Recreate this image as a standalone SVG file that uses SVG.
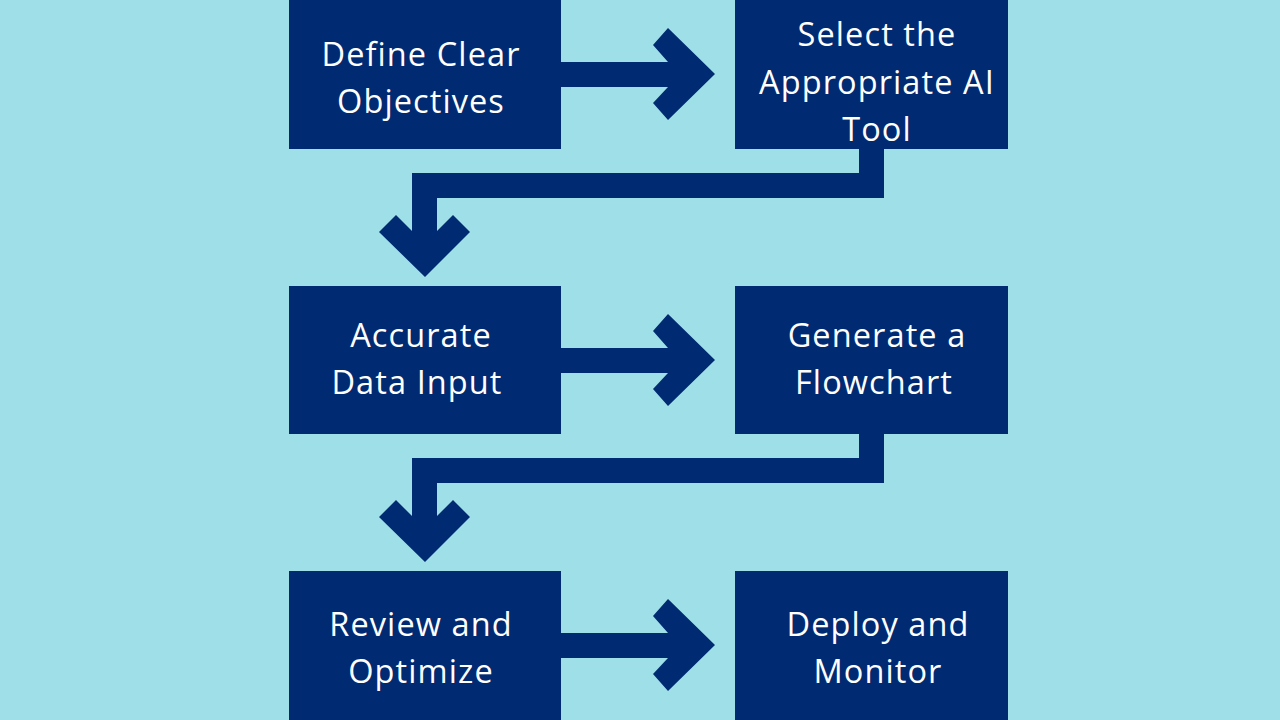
<svg xmlns="http://www.w3.org/2000/svg" width="1280" height="720" viewBox="0 0 1280 720">
<style>
.box{fill:#002A72}
.conn{fill:#002A72}
.t{fill:#FFFFFF;font-family:"Open Sans","Noto Sans","Liberation Sans",sans-serif;font-size:32.5px;letter-spacing:1.1px;text-anchor:middle}
</style>
<rect width="1280" height="720" fill="#9EDFE8"/>
<g id="connectors">
<path class="conn" d="M561,62 L668,62 L653,45 L668,28 L715,74 L668,120 L653,103 L668,87 L561,87 Z"/>
<path class="conn" d="M561,348 L668,348 L653,331 L668,314 L715,360 L668,406 L653,389 L668,373 L561,373 Z"/>
<path class="conn" d="M561,633 L668,633 L653,616 L668,599 L715,645 L668,691 L653,674 L668,658 L561,658 Z"/>
<path class="conn" d="M859,149 L884,149 L884,198 L437,198 L437,231 L453,215 L470,232 L425,277 L379,232 L396,215 L412,231 L412,173 L859,173 Z"/>
<path class="conn" d="M859,434 L884,434 L884,483 L437,483 L437,516 L453,500 L470,517 L425,562 L379,517 L396,500 L412,516 L412,458 L859,458 Z"/>
</g>
<g id="node1">
<rect class="box" x="289" y="0" width="272" height="149"/>
<text class="t" x="421" y="66">Define Clear</text>
<text class="t" x="421" y="113">Objectives</text>
</g>
<g id="node2">
<rect class="box" x="735" y="0" width="273" height="149"/>
<text class="t" x="877" y="46">Select the</text>
<text class="t" x="877" y="94">Appropriate AI</text>
<text class="t" x="877" y="141">Tool</text>
</g>
<g id="node3">
<rect class="box" x="289" y="286" width="272" height="148"/>
<text class="t" x="421" y="347">Accurate</text>
<text class="t" x="417" y="394">Data Input</text>
</g>
<g id="node4">
<rect class="box" x="735" y="286" width="273" height="148"/>
<text class="t" x="877" y="347">Generate a</text>
<text class="t" x="874" y="394">Flowchart</text>
</g>
<g id="node5">
<rect class="box" x="289" y="571" width="272" height="149"/>
<text class="t" x="421" y="636">Review and</text>
<text class="t" x="421" y="683">Optimize</text>
</g>
<g id="node6">
<rect class="box" x="735" y="571" width="273" height="149"/>
<text class="t" x="878" y="636">Deploy and</text>
<text class="t" x="878" y="683">Monitor</text>
</g>
</svg>
